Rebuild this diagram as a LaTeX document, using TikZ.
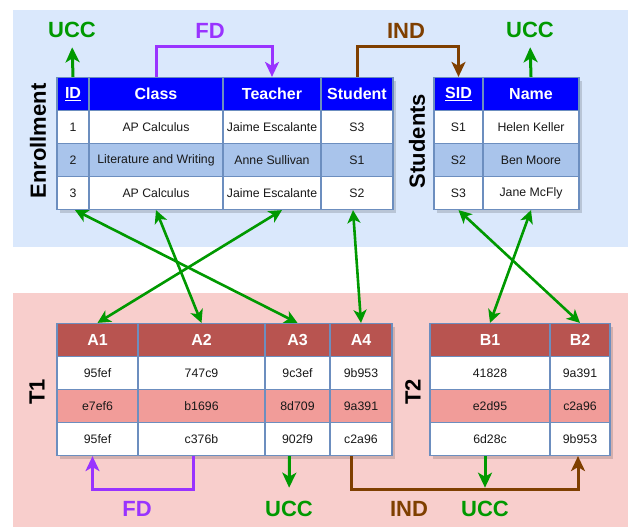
\documentclass[tikz,border=0pt]{standalone}
\usepackage{fontspec}
\setmainfont{Liberation Sans}
\usepackage{xcolor}
\usepackage{tikz}
\usetikzlibrary{arrows.meta}

\definecolor{bgblue}{HTML}{DAE8FC}
\definecolor{bgred}{HTML}{F8CECC}
\definecolor{hdblue}{HTML}{0000FF}
\definecolor{hdred}{HTML}{B85450}
\definecolor{rowblue}{HTML}{A9C4EB}
\definecolor{rowred}{HTML}{F19C99}
\definecolor{edge}{HTML}{6C8EBF}
\definecolor{uccgreen}{HTML}{009900}
\definecolor{fdpurple}{HTML}{9933FF}
\definecolor{indbrown}{HTML}{7F3F00}

\begin{document}
\begin{tikzpicture}
    [x=1pt, y=-1pt,
    cell/.style = {draw=edge, line width=1.2pt, fill=white,
                   inner sep=0pt, minimum height=33pt,
                   text=black!90, font=\fontsize{12.3}{14}\selectfont},
    colw/.style = {minimum width=#1},
    head/.style = {cell, fill=hdblue, text=white,
                   font=\fontsize{16}{19}\selectfont\bfseries},
    headred/.style = {head, fill=hdred},
    tag/.style = {font=\fontsize{22}{26}\selectfont\bfseries},
    title/.style = {tag, rotate=90, text=black},
    bigtip/.style = {-{Stealth[length=15pt, width=14pt, inset=4pt]}},
    ucclink/.style = {draw=uccgreen, line width=3pt, bigtip},
    fdlink/.style = {draw=fdpurple, line width=3pt, bigtip},
    indlink/.style = {draw=indbrown, line width=3pt, bigtip},
    maplink/.style = {draw=uccgreen, line width=2.6pt,
                      {Stealth[length=13pt, width=13pt, inset=3.5pt]}-{Stealth[length=13pt, width=13pt, inset=3.5pt]}}]
    \useasboundingbox (0,0) rectangle (629,527);
    % Fondos
    \fill[bgblue] (13,10) rectangle (628,247);
    \fill[bgred] (13,293) rectangle (628,527);
    % Sombras de las tablas
    \fill[black, opacity=0.15] (60,81) rectangle (396,213);
    \fill[black, opacity=0.15] (437,81) rectangle (582,213);
    \fill[black, opacity=0.15] (60,327) rectangle (395,459);
    \fill[black, opacity=0.15] (433,327) rectangle (613,459);
    % Tabla Enrollment
    \node[head, colw=32pt] (E-id) at (73,94) {\underline{ID}};
    \node[head, colw=134pt] (E-class) at (156,94) {Class};
    \node[head, colw=98pt] (E-teacher) at (272,94) {Teacher};
    \node[head, colw=72pt] (E-student) at (357,94) {Student};
    \node[cell, colw=32pt] (E1-id) at (73,127) {1};
    \node[cell, colw=134pt] (E1-class) at (156,127) {AP Calculus};
    \node[cell, colw=98pt] (E1-teacher) at (272,127) {Jaime Escalante};
    \node[cell, colw=72pt] (E1-student) at (357,127) {S3};
    \node[cell, fill=rowblue, colw=32pt] (E2-id) at (73,160) {2};
    \node[cell, fill=rowblue, colw=134pt] (E2-class) at (156,160) {Literature and Writing};
    \node[cell, fill=rowblue, colw=98pt] (E2-teacher) at (272,160) {Anne Sullivan};
    \node[cell, fill=rowblue, colw=72pt] (E2-student) at (357,160) {S1};
    \node[cell, colw=32pt] (E3-id) at (73,193) {3};
    \node[cell, colw=134pt] (E3-class) at (156,193) {AP Calculus};
    \node[cell, colw=98pt] (E3-teacher) at (272,193) {Jaime Escalante};
    \node[cell, colw=72pt] (E3-student) at (357,193) {S2};
    % Tabla Students
    \node[head, colw=49pt] (S-sid) at (458.5,94) {\underline{SID}};
    \node[head, colw=96pt] (S-name) at (531,94) {Name};
    \node[cell, colw=49pt] (S1-sid) at (458.5,127) {S1};
    \node[cell, colw=96pt] (S1-name) at (531,127) {Helen Keller};
    \node[cell, fill=rowblue, colw=49pt] (S2-sid) at (458.5,160) {S2};
    \node[cell, fill=rowblue, colw=96pt] (S2-name) at (531,160) {Ben Moore};
    \node[cell, colw=49pt] (S3-sid) at (458.5,193) {S3};
    \node[cell, colw=96pt] (S3-name) at (531,193) {Jane McFly};
    % Tabla T1
    \node[headred, colw=81pt] (T1-a1) at (97.5,340) {A1};
    \node[headred, colw=127pt] (T1-a2) at (201.5,340) {A2};
    \node[headred, colw=65pt] (T1-a3) at (297.5,340) {A3};
    \node[headred, colw=62pt] (T1-a4) at (361,340) {A4};
    \node[cell, colw=81pt] (P1-a1) at (97.5,373) {95fef};
    \node[cell, colw=127pt] (P1-a2) at (201.5,373) {747c9};
    \node[cell, colw=65pt] (P1-a3) at (297.5,373) {9c3ef};
    \node[cell, colw=62pt] (P1-a4) at (361,373) {9b953};
    \node[cell, fill=rowred, colw=81pt] (P2-a1) at (97.5,406) {e7ef6};
    \node[cell, fill=rowred, colw=127pt] (P2-a2) at (201.5,406) {b1696};
    \node[cell, fill=rowred, colw=65pt] (P2-a3) at (297.5,406) {8d709};
    \node[cell, fill=rowred, colw=62pt] (P2-a4) at (361,406) {9a391};
    \node[cell, colw=81pt] (P3-a1) at (97.5,439) {95fef};
    \node[cell, colw=127pt] (P3-a2) at (201.5,439) {c376b};
    \node[cell, colw=65pt] (P3-a3) at (297.5,439) {902f9};
    \node[cell, colw=62pt] (P3-a4) at (361,439) {c2a96};
    % Tabla T2
    \node[headred, colw=120pt] (T2-b1) at (490,340) {B1};
    \node[headred, colw=60pt] (T2-b2) at (580,340) {B2};
    \node[cell, colw=120pt] (Q1-b1) at (490,373) {41828};
    \node[cell, colw=60pt] (Q1-b2) at (580,373) {9a391};
    \node[cell, fill=rowred, colw=120pt] (Q2-b1) at (490,406) {e2d95};
    \node[cell, fill=rowred, colw=60pt] (Q2-b2) at (580,406) {c2a96};
    \node[cell, colw=120pt] (Q3-b1) at (490,439) {6d28c};
    \node[cell, colw=60pt] (Q3-b2) at (580,439) {9b953};
    % Nombres de las tablas
    \node[title] (enroll) at (38,141) {Enrollment};
    \node[title] (students) at (417,141) {Students};
    \node[title] (tone) at (37,392) {T1};
    \node[title] (ttwo) at (413,392) {T2};
    % Etiquetas de dependencias
    \node[tag, text=uccgreen] (ucc-e) at (72,30) {UCC};
    \node[tag, text=fdpurple] (fd-e) at (210,31) {FD};
    \node[tag, text=indbrown] (ind-e) at (406,31) {IND};
    \node[tag, text=uccgreen] (ucc-s) at (530,30) {UCC};
    \node[tag, text=fdpurple] (fd-t) at (137,509) {FD};
    \node[tag, text=uccgreen] (ucc-a) at (289,509) {UCC};
    \node[tag, text=indbrown] (ind-t) at (409,509) {IND};
    \node[tag, text=uccgreen] (ucc-b) at (485,509) {UCC};
    % Dependencias arriba
    \draw[ucclink, shorten >=6pt] (E-id.north) -- (ucc-e.south);
    \draw[fdlink] (E-class.north) -- ++(0,-30) -| (E-teacher.north);
    \draw[indlink] (E-student.north) -- ++(0,-30) -| (S-sid.north);
    \draw[ucclink, shorten >=6pt] (S-name.north) -- (ucc-s.south);
    % Dependencias abajo
    \draw[fdlink] ([xshift=-8pt]P3-a2.south) -- ++(0,33) -| ([xshift=-5pt]P3-a1.south);
    \draw[ucclink, shorten >=10pt] ([xshift=-8pt]P3-a3.south) -- (ucc-a.north);
    \draw[indlink] ([xshift=-10pt]P3-a4.south) -- ++(0,33) -| ([xshift=-2pt]Q3-b2.south);
    \draw[ucclink, shorten >=10pt] ([xshift=-5pt]Q3-b1.south) -- (ucc-b.north);
    % Correspondencia de columnas
    \draw[maplink] ([xshift=2pt]E3-id.south) -- (T1-a3.north);
    \draw[maplink] (E3-class.south) -- (T1-a2.north);
    \draw[maplink] ([xshift=10pt]E3-teacher.south) -- (T1-a1.north);
    \draw[maplink] ([xshift=-4pt]E3-student.south) -- (T1-a4.north);
    \draw[maplink] (S3-sid.south) -- (T2-b2.north);
    \draw[maplink] (S3-name.south) -- (T2-b1.north);
\end{tikzpicture}
\end{document}
